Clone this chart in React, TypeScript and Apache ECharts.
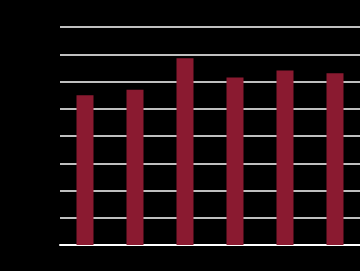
import React, { useEffect, useRef } from "react";
import * as echarts from "echarts";

const categories = ["A", "B", "C", "D", "E", "F"];
const values = [5.5, 5.7, 6.85, 6.15, 6.4, 6.3];
const yTicks = [0, 1, 2, 3, 4, 5, 6, 7, 8];

export default function App() {
  const ref = useRef<HTMLDivElement>(null);
  useEffect(() => {
    document.body.style.margin = "0";
    document.body.style.background = "#000";
    const chart = echarts.init(ref.current!, undefined, { renderer: "svg" });
    chart.setOption({
      animation: false,
      backgroundColor: "#000",
      grid: { left: 60, right: 0, top: 27, bottom: 26 },
      xAxis: {
        type: "category",
        data: categories,
        axisLine: { lineStyle: { color: "#fff", width: 2 } },
        axisTick: { show: false },
        axisLabel: { color: "#000", fontSize: 10 },
      },
      yAxis: {
        type: "value",
        min: yTicks[0],
        max: yTicks[yTicks.length - 1],
        interval: 1,
        axisLine: { show: false },
        axisTick: { show: false },
        axisLabel: { color: "#000", fontSize: 10 },
        splitLine: { lineStyle: { color: "#fff", width: 1.5 } },
      },
      series: [
        {
          type: "bar",
          data: values,
          barWidth: 17,
          itemStyle: { color: "#8a1a30" },
        },
      ],
    });
    return () => chart.dispose();
  }, []);
  return <div ref={ref} style={{ width: 360, height: 271, background: "#000" }} />;
}
